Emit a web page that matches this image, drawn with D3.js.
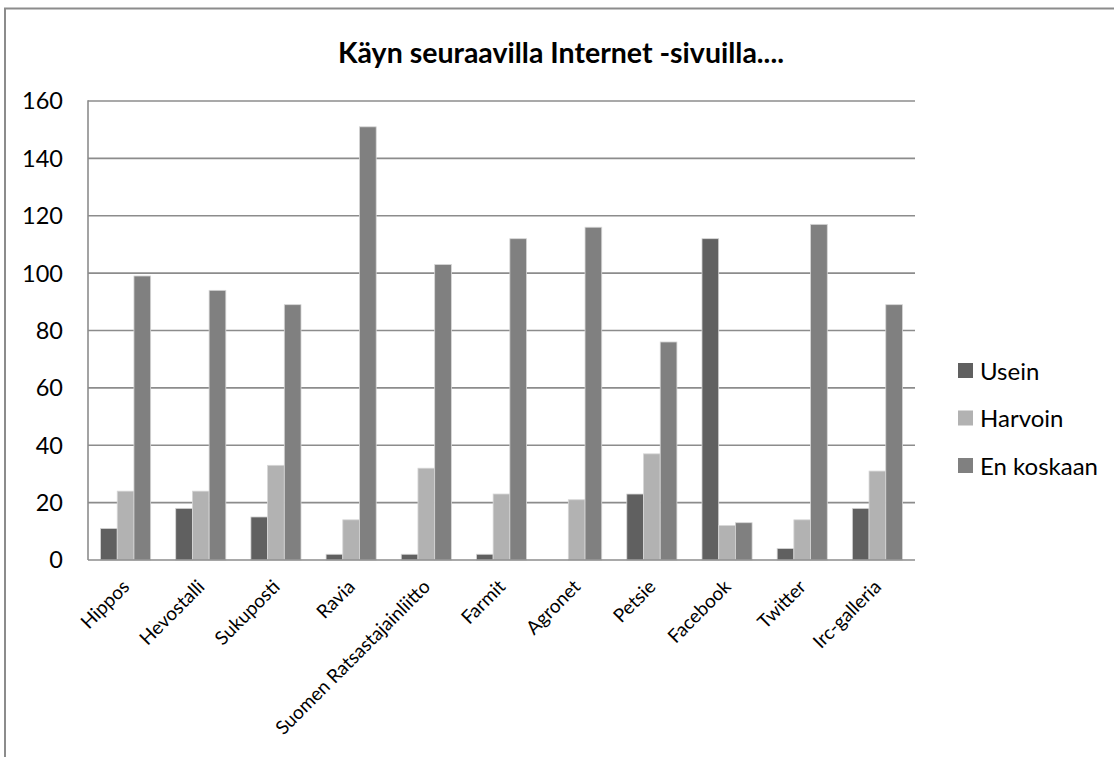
<!DOCTYPE html>
<html>
<head>
<meta charset="utf-8">
<script src="https://cdn.jsdelivr.net/npm/d3@7"></script>
<style>
  html, body { margin: 0; padding: 0; background: #fff; }
  svg { display: block; font-family: Lato, "Liberation Sans", sans-serif; }
</style>
</head>
<body>
<svg id="chart" width="1114" height="757"></svg>
<script>
// Sites asked about
const categories = ["Hippos", "Hevostalli", "Sukuposti", "Ravia", "Suomen Ratsastajainliitto",
  "Farmit", "Agronet", "Petsie", "Facebook", "Twitter", "Irc-galleria"];

// Answer series
const seriesNames = ["Usein", "Harvoin", "En koskaan"];
const usein     = [11, 18, 15, 2, 2, 2, 0, 23, 112, 4, 18];
const harvoin   = [24, 24, 33, 14, 32, 23, 21, 37, 12, 14, 31];
const enKoskaan = [99, 94, 89, 151, 103, 112, 116, 76, 13, 117, 89];
const seriesValues = [usein, harvoin, enKoskaan];
const seriesColors = ["#606060", "#b2b2b2", "#808080"];

const yTicks = [0, 20, 40, 60, 80, 100, 120, 140, 160];
const title = "Käyn seuraavilla Internet -sivuilla....";

const svg = d3.select("#chart");

// chart frame (continues past the right and bottom edges)
svg.append("path")
  .attr("d", "M5,760 L5,8.5 L1120,8.5")
  .attr("fill", "none").attr("stroke", "#8c8c8c").attr("stroke-width", 2);

const plot = { left: 88, right: 915, top: 101, bottom: 560 };

const x = d3.scaleBand().domain(categories).range([plot.left, plot.right]).paddingInner(0).paddingOuter(0);
const y = d3.scaleLinear().domain([0, 160]).range([plot.bottom, plot.top]);
const barW = x.bandwidth() / 4.5;
const xs = d3.scaleBand().domain(seriesNames).range([barW * 0.75, barW * 3.75]).padding(0);

// gridlines
svg.append("g").selectAll("line").data(yTicks.filter(t => t > 0)).join("line")
  .attr("x1", plot.left).attr("x2", plot.right)
  .attr("y1", d => y(d)).attr("y2", d => y(d))
  .attr("stroke", "#8c8c8c").attr("stroke-width", 1.6);

// y tick labels
svg.append("g").selectAll("text").data(yTicks).join("text")
  .attr("x", 63).attr("y", d => y(d)).attr("dy", "0.36em")
  .attr("text-anchor", "end").attr("font-size", 23.5).attr("fill", "#000")
  .text(d => d);

// bars
const rows = [];
categories.forEach((c, i) => seriesNames.forEach((s, j) => rows.push({ c, s, j, v: seriesValues[j][i] })));
svg.append("g").selectAll("rect").data(rows.filter(d => d.v > 0)).join("rect")
  .attr("x", d => x(d.c) + xs(d.s))
  .attr("width", xs.bandwidth())
  .attr("y", d => y(d.v))
  .attr("height", d => y(0) - y(d.v))
  .attr("fill", d => seriesColors[d.j])
  .attr("stroke", "#d6d6d6").attr("stroke-width", 0.8);

// axes lines
svg.append("line").attr("x1", plot.left).attr("x2", plot.left).attr("y1", plot.top - 0.8).attr("y2", plot.bottom)
  .attr("stroke", "#8c8c8c").attr("stroke-width", 1.6);
svg.append("line").attr("x1", plot.left).attr("x2", plot.right).attr("y1", plot.bottom).attr("y2", plot.bottom)
  .attr("stroke", "#8c8c8c").attr("stroke-width", 1.6);

// category labels, rotated
svg.append("g").selectAll("text").data(categories).join("text")
  .attr("transform", d => `translate(${x(d) + x.bandwidth() / 2 + 5},${plot.bottom + 28}) rotate(-45)`)
  .attr("text-anchor", "end").attr("font-size", 19).attr("fill", "#000")
  .text(d => d);

// title
svg.append("text").attr("x", 561).attr("y", 63).attr("text-anchor", "middle")
  .attr("font-size", 28.5).attr("font-weight", "bold").attr("fill", "#000")
  .text(title);

// legend
const lg = svg.append("g").selectAll("g").data(seriesNames).join("g")
  .attr("transform", (d, i) => `translate(958,${371 + i * 47.5})`);
lg.append("rect").attr("x", 0).attr("y", -8).attr("width", 15).attr("height", 15)
  .attr("fill", (d, i) => seriesColors[i]);
lg.append("text").attr("x", 22).attr("y", 0).attr("dy", "0.36em")
  .attr("font-size", 24).attr("fill", "#000").text(d => d);
</script>
</body>
</html>
